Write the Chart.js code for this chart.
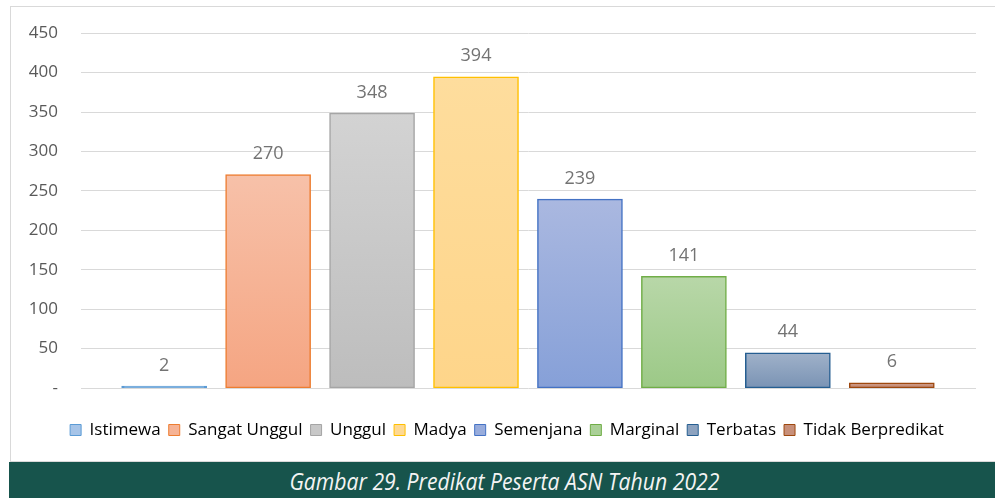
<!DOCTYPE html>
<html>
<head>
<meta charset="utf-8">
<script src="https://cdn.jsdelivr.net/npm/chart.js@4.4.0/dist/chart.umd.min.js"></script>
<style>
    html, body { margin: 0; padding: 0; background: #fff; }
    body { width: 995px; height: 498px; position: relative; overflow: hidden; }
    #frame {
        position: absolute; left: 10px; top: 6px; width: 1000px; height: 456px;
        border: 1px solid #d9d9d9; box-sizing: border-box;
    }
    #wrap { position: absolute; left: 0; top: 0; width: 995px; height: 462px; }
    #band {
        position: absolute; left: 9px; top: 462px; width: 990px; height: 36px;
        background: #17544c; text-align: center; overflow: hidden;
    }
    #caption {
        display: inline-block; color: #f4f4f4; font-family: "Open Sans", sans-serif;
        font-style: italic; font-size: 24px; line-height: 38px; white-space: nowrap;
        transform-origin: center center;
    }
</style>
</head>
<body>
<div id="frame"></div>
<div id="wrap"><canvas id="predikatChart" width="995" height="462"></canvas></div>
<div id="band"><span id="caption">Gambar 29. Predikat Peserta ASN Tahun 2022</span></div>

<script>
// Data
const categories = ['Istimewa', 'Sangat Unggul', 'Unggul', 'Madya', 'Semenjana', 'Marginal', 'Terbatas', 'Tidak Berpredikat'];
const values = [2, 270, 348, 394, 239, 141, 44, 6];
const yTicks = [0, 50, 100, 150, 200, 250, 300, 350, 400, 450];

// Colours per bar
const borderColors = ['#5b9bd5', '#ed7d31', '#a5a5a5', '#ffc000', '#4472c4', '#70ad47', '#255e91', '#9e480e'];
const fillTop = ['#5b9bd5', '#f7c1a9', '#d3d3d3', '#fedd9d', '#aab8e0', '#b8d7a8', '#9fb1c9', '#cf9b86'];
const fillBottom = ['#5b9bd5', '#f5a582', '#bdbdbd', '#fed58a', '#86a0d8', '#9cc987', '#7a93b4', '#c08570'];
const legendFill = ['#a6c4e8', '#f6b395', '#c8c8c8', '#fed993', '#98acdc', '#aad097', '#8ca2bf', '#c8907a'];

// Value labels above bars
const barLabels = {
    id: 'barLabels',
    afterDatasetsDraw(chart) {
        const ctx = chart.ctx;
        const meta = chart.getDatasetMeta(0);
        ctx.save();
        ctx.font = '18px "Open Sans"';
        ctx.fillStyle = '#737373';
        ctx.textAlign = 'center';
        ctx.textBaseline = 'middle';
        meta.data.forEach((bar, i) => {
            ctx.fillText(values[i], bar.x, bar.y - 21);
        });
        ctx.restore();
    }
};

// legend sits a bit right of the canvas centre in the original
const legendShift = {
    id: 'legendShift',
    afterLayout(chart) {
        chart.legend.left += 19;
        chart.legend.right += 19;
    }
};

function barGradient(c) {
    const chart = c.chart;
    const i = c.dataIndex;
    if (!chart.chartArea || c.type !== 'data') return fillBottom[i];
    const y = chart.scales.y;
    const top = y.getPixelForValue(values[i]);
    const bottom = y.getPixelForValue(0);
    const g = chart.ctx.createLinearGradient(0, top, 0, bottom);
    g.addColorStop(0, fillTop[i]);
    g.addColorStop(1, fillBottom[i]);
    return g;
}

const ctx = document.getElementById('predikatChart').getContext('2d');
new Chart(ctx, {
    type: 'bar',
    data: {
        datasets: [{
            data: values.map((v, i) => ({ x: i, y: v })),
            backgroundColor: barGradient,
            borderColor: borderColors,
            borderWidth: 1.5,
            borderSkipped: false,
            inflateAmount: 0.75,
            barPercentage: 0.81,
            categoryPercentage: 1
        }]
    },
    options: {
        responsive: false,
        animation: false,
        layout: {
            padding: { left: 0, right: 19, top: 30, bottom: 13.5 }
        },
        plugins: {
            tooltip: { enabled: false },
            legend: {
                position: 'bottom',
                labels: {
                    boxWidth: 11,
                    boxHeight: 11,
                    padding: 8,
                    color: '#595959',
                    font: { family: 'Open Sans', size: 17 },
                    generateLabels: () => categories.map((name, i) => ({
                        text: name,
                        fillStyle: legendFill[i],
                        strokeStyle: borderColors[i],
                        lineWidth: 1,
                        hidden: false,
                        index: i
                    }))
                }
            }
        },
        scales: {
            x: {
                type: 'linear',
                offset: false,
                min: -0.8,
                max: 7.81,
                afterBuildTicks: (s) => { s.ticks = categories.map((c, i) => ({ value: i })); },
                grid: { display: false, offset: false },
                border: { display: false },
                ticks: { display: false },
                afterFit: (s) => { s.height = 25.5; }
            },
            y: {
                min: 0,
                max: 450,
                afterBuildTicks: (s) => { s.ticks = yTicks.map(v => ({ value: v })); },
                afterFit: (s) => { s.width = 81; },
                grid: { color: '#d9d9d9', lineWidth: 1, drawTicks: false },
                border: { display: false },
                ticks: {
                    padding: 23,
                    color: '#595959',
                    font: { family: 'Open Sans', size: 17 },
                    callback: (v) => v === 0 ? '-' : v
                }
            }
        }
    },
    plugins: [barLabels, legendShift]
});

// squeeze the caption to the condensed width of the original
const cap = document.getElementById('caption');
const w = cap.getBoundingClientRect().width;
cap.style.transform = 'scaleX(' + (430 / w) + ')';
</script>
</body>
</html>
